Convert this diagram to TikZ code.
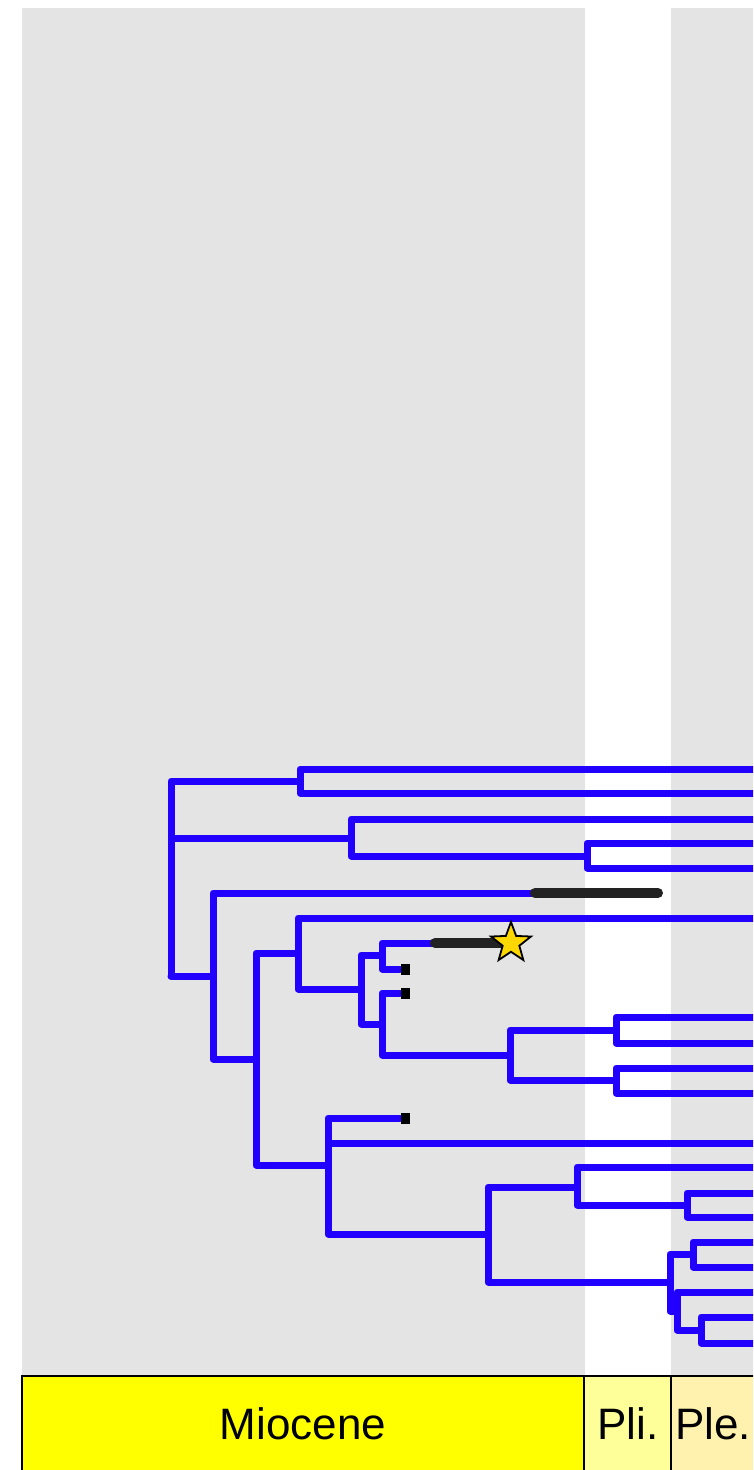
\documentclass[tikz,border=0pt]{standalone}
\usepackage{fontspec}
\setmainfont{Liberation Sans}
\usetikzlibrary{shapes.geometric}
\definecolor{treeblue}{HTML}{2200FF}
\definecolor{bggrey}{HTML}{E4E4E4}
\definecolor{miocol}{HTML}{FFFF00}
\definecolor{plicol}{HTML}{FFFF99}
\definecolor{plecol}{HTML}{FFF2AE}
\definecolor{rangegrey}{HTML}{222222}
\definecolor{stargold}{HTML}{FFD700}
\tikzset{
  branch/.style   = {treeblue, line width=1.75pt, line cap=round, line join=round},
  rangebar/.style = {rangegrey, line width=2.5pt, line cap=round},
  tipbox/.style   = {fill=black, inner sep=0pt, minimum width=2.25pt, minimum height=2.75pt, anchor=west},
  fossil/.style   = {star, star points=5, star point ratio=2.4, draw=black, fill=stargold,
                     line width=0.45pt, minimum size=10.5pt, inner sep=0pt},
  epochbox/.style = {draw=black, line width=0.4pt},
  epochlbl/.style = {anchor=base, inner sep=0pt, font=\fontsize{11}{13}\selectfont},
}

\begin{document}
\begin{tikzpicture}[x=0.25pt,y=-0.25pt]
  \useasboundingbox (0,0) rectangle (753,1470);
  \clip (0,0) rectangle (753,1470);
  % time bands
  \fill[bggrey] (22,8) rectangle (585,1376);
  \fill[bggrey] (671,8) rectangle (760,1376);
  % internal nodes
  \coordinate (root) at (171,976);
  \coordinate (n1)  at (300,781);
  \coordinate (n2)  at (351,838);
  \coordinate (n3)  at (587,856);
  \coordinate (n4)  at (213,976);
  \coordinate (n5)  at (256,1059);
  \coordinate (n6)  at (298,953);
  \coordinate (n7)  at (361,989);
  \coordinate (n8)  at (382,955);
  \coordinate (n9)  at (382,1024);
  \coordinate (n10) at (328,1165);
  \coordinate (n11) at (510,1055);
  \coordinate (n12) at (616,1030);
  \coordinate (n13) at (616,1080);
  \coordinate (n14) at (488,1234);
  \coordinate (n15) at (577,1187);
  \coordinate (n16) at (670,1282);
  \coordinate (n17) at (687,1205);
  \coordinate (n18) at (693,1254);
  \coordinate (n19) at (677,1311);
  \coordinate (n20) at (701,1330);
  % tips
  \coordinate (l1)  at (760,769);
  \coordinate (l2)  at (760,793);
  \coordinate (l3)  at (760,819);
  \coordinate (l4)  at (760,843);
  \coordinate (l5)  at (760,868);
  \coordinate (f1)  at (535,893);
  \coordinate (f1e) at (658,893);
  \coordinate (l6)  at (760,918);
  \coordinate (f2)  at (435,943);
  \coordinate (t1)  at (400,969);
  \coordinate (t2)  at (400,993);
  \coordinate (l7)  at (760,1017);
  \coordinate (l8)  at (760,1043);
  \coordinate (l9)  at (760,1068);
  \coordinate (l10) at (760,1093);
  \coordinate (t3)  at (400,1118);
  \coordinate (l11) at (760,1143);
  \coordinate (l12) at (760,1167);
  \coordinate (l13) at (760,1193);
  \coordinate (l14) at (760,1217);
  \coordinate (l15) at (760,1242);
  \coordinate (l16) at (760,1267);
  \coordinate (l17) at (760,1292);
  \coordinate (l18) at (760,1317);
  \coordinate (l19) at (760,1343);
  % branches
  \draw[branch] (root) |- (n1);  \draw[branch] (root) |- (n2);  \draw[branch] (root) |- (n4);
  \draw[branch] (n1) |- (l1);    \draw[branch] (n1) |- (l2);
  \draw[branch] (n2) |- (l3);    \draw[branch] (n2) |- (n3);
  \draw[branch] (n3) |- (l4);    \draw[branch] (n3) |- (l5);
  \draw[branch] (n4) |- (f1);    \draw[branch] (n4) |- (n5);
  \draw[branch] (n5) |- (n6);    \draw[branch] (n5) |- (n10);
  \draw[branch] (n6) |- (l6);    \draw[branch] (n6) |- (n7);
  \draw[branch] (n7) |- (n8);    \draw[branch] (n7) |- (n9);
  \draw[branch] (n8) |- (f2);    \draw[branch] (n8) |- (t1);
  \draw[branch] (n9) |- (t2);    \draw[branch] (n9) |- (n11);
  \draw[branch] (n11) |- (n12);  \draw[branch] (n11) |- (n13);
  \draw[branch] (n12) |- (l7);   \draw[branch] (n12) |- (l8);
  \draw[branch] (n13) |- (l9);   \draw[branch] (n13) |- (l10);
  \draw[branch] (n10) |- (t3);   \draw[branch] (n10) |- (l11);  \draw[branch] (n10) |- (n14);
  \draw[branch] (n14) |- (n15);  \draw[branch] (n14) |- (n16);
  \draw[branch] (n15) |- (l12);  \draw[branch] (n15) |- (n17);
  \draw[branch] (n17) |- (l13);  \draw[branch] (n17) |- (l14);
  \draw[branch] (n16) |- (n18);  \draw[branch] (n16) |- (n19);
  \draw[branch] (n18) |- (l15);  \draw[branch] (n18) |- (l16);
  \draw[branch] (n19) |- (l17);  \draw[branch] (n19) |- (n20);
  \draw[branch] (n20) |- (l18);  \draw[branch] (n20) |- (l19);
  % fossil ranges and tip marks
  \draw[rangebar] (f1) -- (f1e);
  \coordinate (stc) at (511,943);
  \draw[rangebar] (f2) -- (stc);
  \node[fossil] (st) at (stc) {};
  \node[tipbox] (sq1) at (t1) {};
  \node[tipbox] (sq2) at (t2) {};
  \node[tipbox] (sq3) at (t3) {};
  % epoch bar
  \draw[epochbox, fill=miocol] (22,1376) rectangle (584,1480);
  \draw[epochbox, fill=plicol] (584,1376) rectangle (671,1480);
  \draw[epochbox, fill=plecol] (671,1376) rectangle (780,1480);
  \node[epochlbl] (mio) at (303,1439) {Miocene};
  \node[epochlbl] (pli) at (628,1439) {Pli.};
  \node[epochlbl] (ple) at (713,1439) {Ple.};
\end{tikzpicture}
\end{document}
